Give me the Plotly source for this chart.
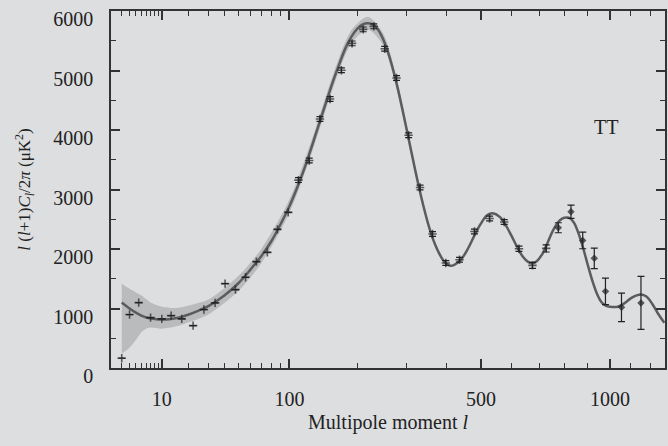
import numpy as np
import plotly.graph_objects as go

# ---- data ----
curve_l = [2, 3, 4, 5, 6, 8, 10, 13, 16, 20, 25, 30, 40, 50, 60, 70, 80, 90, 100,
           110, 120, 130, 140, 150, 160, 170, 180, 190, 200, 210, 220, 230, 240, 250,
           260, 270, 280, 290, 300, 310, 320, 330, 340, 350, 360, 370, 380, 390, 400,
           410, 420, 440, 460, 480, 500, 520, 537, 560, 580, 600, 620, 640, 660, 675,
           690, 710, 730, 750, 770, 790, 810, 822, 840, 860, 880, 900, 920, 940, 960,
           980, 1000, 1037, 1070, 1100, 1130, 1152, 1180, 1210, 1240, 1275]
curve_val = [1100, 1000, 930, 880, 850, 825, 815, 825, 850, 900, 970, 1040, 1220, 1420,
             1650, 1880, 2130, 2420, 2720, 3050, 3400, 3780, 4150, 4500, 4830, 5120, 5380,
             5570, 5700, 5775, 5795, 5770, 5680, 5520, 5300, 5030, 4720, 4380, 4030, 3680,
             3340, 3020, 2730, 2470, 2250, 2070, 1930, 1820, 1750, 1720, 1730, 1820, 2000,
             2230, 2430, 2570, 2600, 2540, 2400, 2220, 2030, 1870, 1780, 1760, 1790, 1900,
             2080, 2280, 2430, 2510, 2530, 2520, 2440, 2250, 2000, 1720, 1460, 1250, 1110,
             1050, 1030, 1030, 1090, 1170, 1220, 1235, 1200, 1080, 920, 760]

band_l = [2, 3, 4, 5, 6, 7, 10, 15, 20, 30, 50, 70, 100, 130, 160, 190, 220, 250, 280,
          310, 340]
band_lo = [240, 340, 470, 600, 660, 680, 660, 700, 770, 900, 1290, 1760, 2610, 3670, 4720,
           5460, 5685, 5420, 4630, 3610, 2700]
band_hi = [1420, 1330, 1270, 1220, 1160, 1100, 1030, 1010, 1050, 1150, 1540, 2000, 2830,
           3890, 4940, 5680, 5905, 5620, 4810, 3750, 2760]

pts_l = [2, 3, 4.5, 7, 10, 13, 17, 22, 27.5, 34, 40.5, 48, 56, 65.5, 76, 86.5, 98.6,
         111, 125, 140, 155, 173, 191, 211, 231, 253, 278, 305, 332, 363, 398, 436, 480,
         527, 575, 626, 675, 727, 775, 827, 877, 928, 979, 1055, 1152]
pts_val = [165, 898, 1099, 847, 825, 881, 825, 713, 982, 1094, 1418, 1317, 1524, 1787,
           1943, 2330, 2615, 3158, 3487, 4186, 4522, 5003, 5456, 5691, 5742, 5366, 4874,
           3913, 3034, 2252, 1765, 1820, 2295, 2513, 2453, 2005, 1725, 2010, 2357, 2626,
           2144, 1843, 1288, 1020, 1094]
pts_err = [0, 0, 0, 0, 0, 0, 0, 0, 0, 0, 0, 0, 0, 0, 0, 0, 0,
           40, 40, 40, 40, 40, 40, 40, 40, 40, 40, 40, 40, 40, 40, 40, 40,
           40, 40, 45, 50, 60, 84, 112, 140, 173, 224, 240, 445]

major_ticks = [10, 100, 500, 1000]
major_labels = ["10", "100", "500", "1000"]
minor_ticks = [2, 3, 4, 5, 6, 7, 8, 9, 20, 30, 40, 50, 60, 70, 80, 90,
               200, 300, 400, 600, 700, 800, 900, 1100, 1200]

P = 0.4  # the axis is drawn in l**0.4


def tx(v):
    return np.asarray(v, dtype=float) ** P


BG = "rgb(221,222,224)"
FONT = "Liberation Serif"
AX = "#333333"

fig = go.Figure()

bx = np.concatenate([tx(band_l), tx(band_l)[::-1]])
by = np.concatenate([np.asarray(band_hi), np.asarray(band_lo)[::-1]])
fig.add_trace(go.Scatter(x=bx, y=by, fill="toself", fillcolor="rgb(186,187,189)",
                         line=dict(width=0, shape="spline", smoothing=0.8), mode="lines",
                         hoverinfo="skip", showlegend=False))

fig.add_trace(go.Scatter(x=tx(curve_l), y=curve_val, mode="lines",
                         line=dict(color="rgb(92,92,92)", width=2.5, shape="spline",
                                   smoothing=1.0),
                         showlegend=False))

symbols = ["diamond" if l >= 770 else "cross-thin" for l in pts_l]
sizes = [4 if l >= 770 else 6 for l in pts_l]
fig.add_trace(go.Scatter(x=tx(pts_l), y=pts_val, mode="markers",
                         marker=dict(symbol=symbols, size=sizes, color="#222222",
                                     line=dict(color="#222222", width=1.6)),
                         error_y=dict(type="data", array=pts_err, visible=True,
                                      color="#222222", thickness=1.2, width=3.5),
                         showlegend=False))

fig.add_annotation(x=0.918, y=0.711, xref="paper", yref="paper", text="TT",
                   showarrow=False, font=dict(family=FONT, size=20, color="#222222"))

fig.update_layout(
    width=668, height=446,
    margin=dict(l=111, r=1, t=11, b=78),
    paper_bgcolor=BG, plot_bgcolor=BG,
    font=dict(family=FONT, size=20, color="#222222"),
    showlegend=False,
)

fig.update_xaxes(
    range=[1.0, 17.487], showgrid=False, zeroline=False,
    showline=True, linecolor=AX, linewidth=1.6, mirror="ticks",
    tickmode="array", tickvals=list(tx(major_ticks)), ticktext=major_labels,
    ticks="inside", ticklen=9, tickwidth=1.6, tickcolor=AX,
    ticklabelstandoff=12,
    minor=dict(tickmode="array", tickvals=list(tx(minor_ticks)), ticks="inside",
               ticklen=5, tickwidth=1.4, tickcolor=AX, showgrid=False),
    title=dict(text="Multipole moment <i>l</i>", font=dict(family=FONT, size=20),
               standoff=6),
    tickfont=dict(family=FONT, size=20),
)

fig.update_yaxes(
    range=[0, 6000], showgrid=False, zeroline=False,
    showline=True, linecolor=AX, linewidth=1.6, mirror="ticks",
    tickmode="array", tickvals=[0, 1000, 2000, 3000, 4000, 5000, 6000],
    ticks="inside", ticklen=9, tickwidth=1.6, tickcolor=AX,
    ticklabelstandoff=12, ticklabelshift=8, ticklabeloverflow="allow",
    minor=dict(dtick=500, ticks="inside", ticklen=5, tickwidth=1.4, tickcolor=AX,
               showgrid=False),
    title=dict(text="<i>l</i> (<i>l</i>+1)<i>C<sub>l</sub></i>/2<i>π</i> (μK<sup>2</sup>)",
               font=dict(family=FONT, size=17), standoff=18),
    tickfont=dict(family=FONT, size=20),
)

fig.write_html("out.html")
